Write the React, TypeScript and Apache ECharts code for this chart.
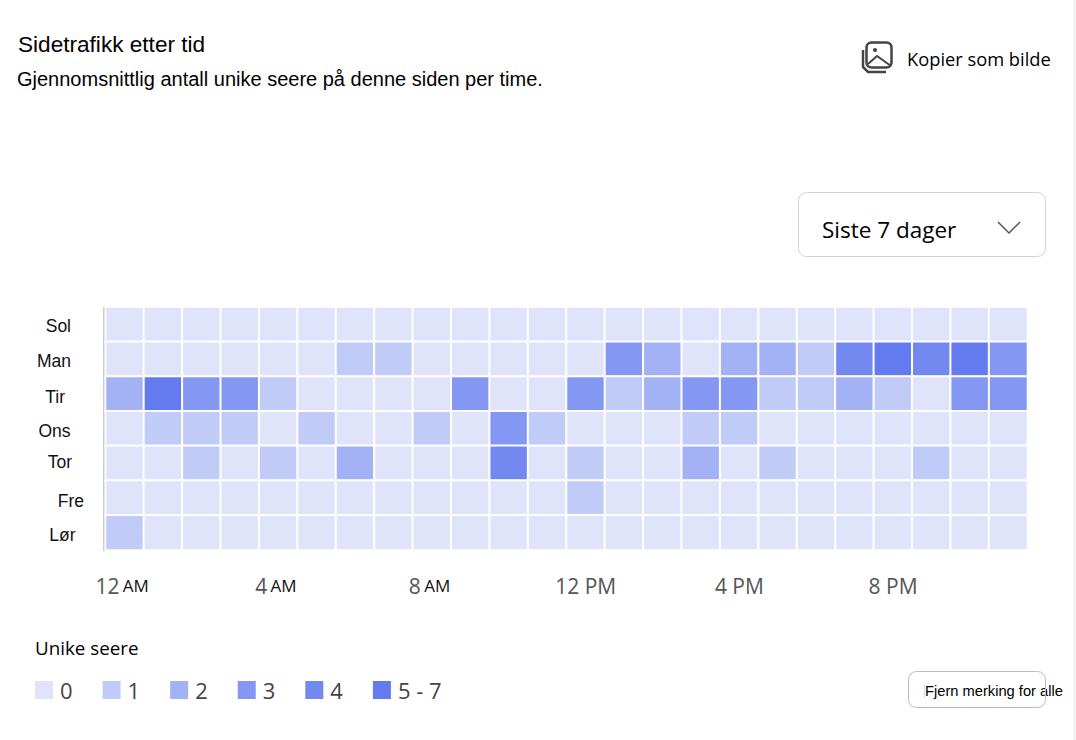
import React, { useEffect, useRef } from "react";
import * as echarts from "echarts";

const hours = ["12 AM","1 AM","2 AM","3 AM","4 AM","5 AM","6 AM","7 AM","8 AM","9 AM","10 AM","11 AM","12 PM","1 PM","2 PM","3 PM","4 PM","5 PM","6 PM","7 PM","8 PM","9 PM","10 PM","11 PM"];
const days = ["Sol","Man","Tir","Ons","Tor","Fre","Lør"];
const sol = [0,0,0,0,0,0,0,0,0,0,0,0,0,0,0,0,0,0,0,0,0,0,0,0];
const man = [0,0,0,0,0,0,1,1,0,0,0,0,0,3,2,0,2,2,1,4,5,4,5,3];
const tir = [2,5,3,3,1,0,0,0,0,3,0,0,3,1,2,3,3,1,1,2,1,0,3,3];
const ons = [0,1,1,1,0,1,0,0,1,0,3,1,0,0,0,1,1,0,0,0,0,0,0,0];
const tor = [0,0,1,0,1,0,2,0,0,0,4,0,1,0,0,2,0,1,0,0,0,1,0,0];
const fre = [0,0,0,0,0,0,0,0,0,0,0,0,1,0,0,0,0,0,0,0,0,0,0,0];
const lor = [1,0,0,0,0,0,0,0,0,0,0,0,0,0,0,0,0,0,0,0,0,0,0,0];
const rows = [sol, man, tir, ons, tor, fre, lor];
const legendLabels = ["0","1","2","3","4","5 - 7"];
const levelColors = ["#e0e4fa","#c0cbf8","#a3b1f5","#8497f3","#7389f0","#637bef"];
const dayPad: Record<string, [number, number, number]> = { Sol: [4, 34.5, 0], Man: [4, 34.5, 0], Tir: [6, 40.5, 0], Ons: [4, 35, 0], Tor: [0, 33.5, 2], Fre: [6, 21.5, 0], "Lør": [4, 30, 0] };

const FONT = "'Liberation Sans', Arial, sans-serif";
const UI = "'Open Sans', sans-serif";

export default function App() {
  const ref = useRef<HTMLDivElement>(null);
  useEffect(() => {
    document.body.style.margin = "0";
    document.body.style.overflow = "hidden";
    const chart = echarts.init(ref.current!, undefined, { renderer: "svg" });
    const data: number[][] = [];
    rows.forEach((r, y) => r.forEach((v, x) => data.push([x, y, v])));
    const rich: any = {
      n: { fontFamily: UI, fontSize: 21, color: "#555" },
      s: { fontFamily: UI, fontSize: 17, color: "#111", padding: [0, 5, 0, 0] },
    };
    days.forEach((d, i) => {
      rich["d" + i] = {
        fontFamily: FONT, fontSize: 17.5, color: "#111",
        padding: [dayPad[d][0], dayPad[d][1], dayPad[d][2], 0],
      };
    });
    const text = (x: number, y: number, t: string, size: number, fontFamily = FONT, fill = "#000") => ({
      type: "text", x, y,
      style: { text: t, fontSize: size, fontFamily, fill, verticalAlign: "middle" },
    });
    chart.setOption({
      animation: false,
      backgroundColor: "#fff",
      grid: { left: 105.5, top: 307, width: 922, height: 243, containLabel: false },
      xAxis: {
        type: "category", data: hours, position: "bottom",
        axisLine: { show: false }, axisTick: { show: false }, splitLine: { show: false }, splitArea: { show: false },
        axisLabel: {
          interval: 3, margin: 25,
          formatter: (v: string) => {
            const [n, m] = v.split(" ");
            return m === "AM" ? `{n|${n}} {s|${m}}` : `{n|${v}}`;
          },
          rich,
        },
      },
      yAxis: {
        type: "category", data: days, inverse: true,
        axisLine: { show: false }, axisTick: { show: false }, splitLine: { show: false }, splitArea: { show: false },
        axisLabel: {
          margin: 0,
          formatter: (v: string) => `{d${days.indexOf(v)}|${v}}`,
          rich,
        },
      },
      visualMap: {
        type: "piecewise", orient: "horizontal", left: 35, top: 679, padding: 0,
        itemWidth: 18, itemHeight: 18, itemGap: 30, textGap: 7, itemSymbol: "rect",
        selectedMode: false, hoverLink: false, calculable: false,
        seriesIndex: 0, dimension: 2,
        textStyle: { fontFamily: UI, fontSize: 22, color: "#444" },
        pieces: [
          { value: 0, label: legendLabels[0], color: levelColors[0] },
          { value: 1, label: legendLabels[1], color: levelColors[1] },
          { value: 2, label: legendLabels[2], color: levelColors[2] },
          { value: 3, label: legendLabels[3], color: levelColors[3] },
          { value: 4, label: legendLabels[4], color: levelColors[4] },
          { min: 5, max: 7, label: legendLabels[5], color: levelColors[5] },
        ],
      },
      series: [{
        type: "heatmap", data,
        itemStyle: { borderColor: "#fff", borderWidth: 2 },
        emphasis: { disabled: true },
      }],
      graphic: [
        { type: "rect", shape: { x: 1073, y: 0, width: 3, height: 740 }, style: { fill: "#f2f2f2" } },
        { type: "line", shape: { x1: 104.5, y1: 307, x2: 104.5, y2: 551 }, style: { stroke: "#999", lineWidth: 2 } },
        { type: "line", shape: { x1: 104, y1: 550, x2: 1028, y2: 550 }, style: { stroke: "#999", lineWidth: 2 } },
        text(18, 44, "Sidetrafikk etter tid", 22.6),
        text(17, 79, "Gjennomsnittlig antall unike seere på denne siden per time.", 20),
        text(907, 58.5, "Kopier som bilde", 18.3, UI),
        text(35, 647.5, "Unike seere", 18.8, UI),
        text(822, 229, "Siste 7 dager", 22.5, UI),
        text(925, 690.5, "Fjern merking for alle", 14.7),
        { type: "line", shape: { x1: 924.5, y1: 684, x2: 924.5, y2: 698 }, style: { stroke: "#ddd", lineWidth: 1 } },
        { type: "rect", shape: { x: 866.5, y: 42.5, width: 25, height: 25, r: 5 }, style: { fill: "#fff", stroke: "#444", lineWidth: 2.5 } },
        { type: "polyline", shape: { points: [[863, 50], [863, 67], [868, 72], [886, 72]] }, style: { fill: "none", stroke: "#444", lineWidth: 2.5 } },
        { type: "polyline", shape: { points: [[868, 64], [877, 56], [891, 66]] }, style: { fill: "none", stroke: "#444", lineWidth: 2 } },
        { type: "circle", shape: { cx: 875, cy: 50, r: 2 }, style: { fill: "#444" } },
        { type: "rect", shape: { x: 798.5, y: 192.5, width: 247, height: 64, r: 8 }, style: { fill: "none", stroke: "#d2d2d2", lineWidth: 1 } },
        { type: "polyline", shape: { points: [[998, 222], [1009, 233], [1020, 222]] }, style: { fill: "none", stroke: "#555", lineWidth: 1.5 } },
        { type: "rect", shape: { x: 908.5, y: 671.5, width: 137, height: 36, r: 8 }, style: { fill: "none", stroke: "#bbb", lineWidth: 1 } },
      ],
    });
    return () => chart.dispose();
  }, []);
  return <div ref={ref} style={{ position: "fixed", left: 0, top: 0, width: 1076, height: 740 }} />;
}
